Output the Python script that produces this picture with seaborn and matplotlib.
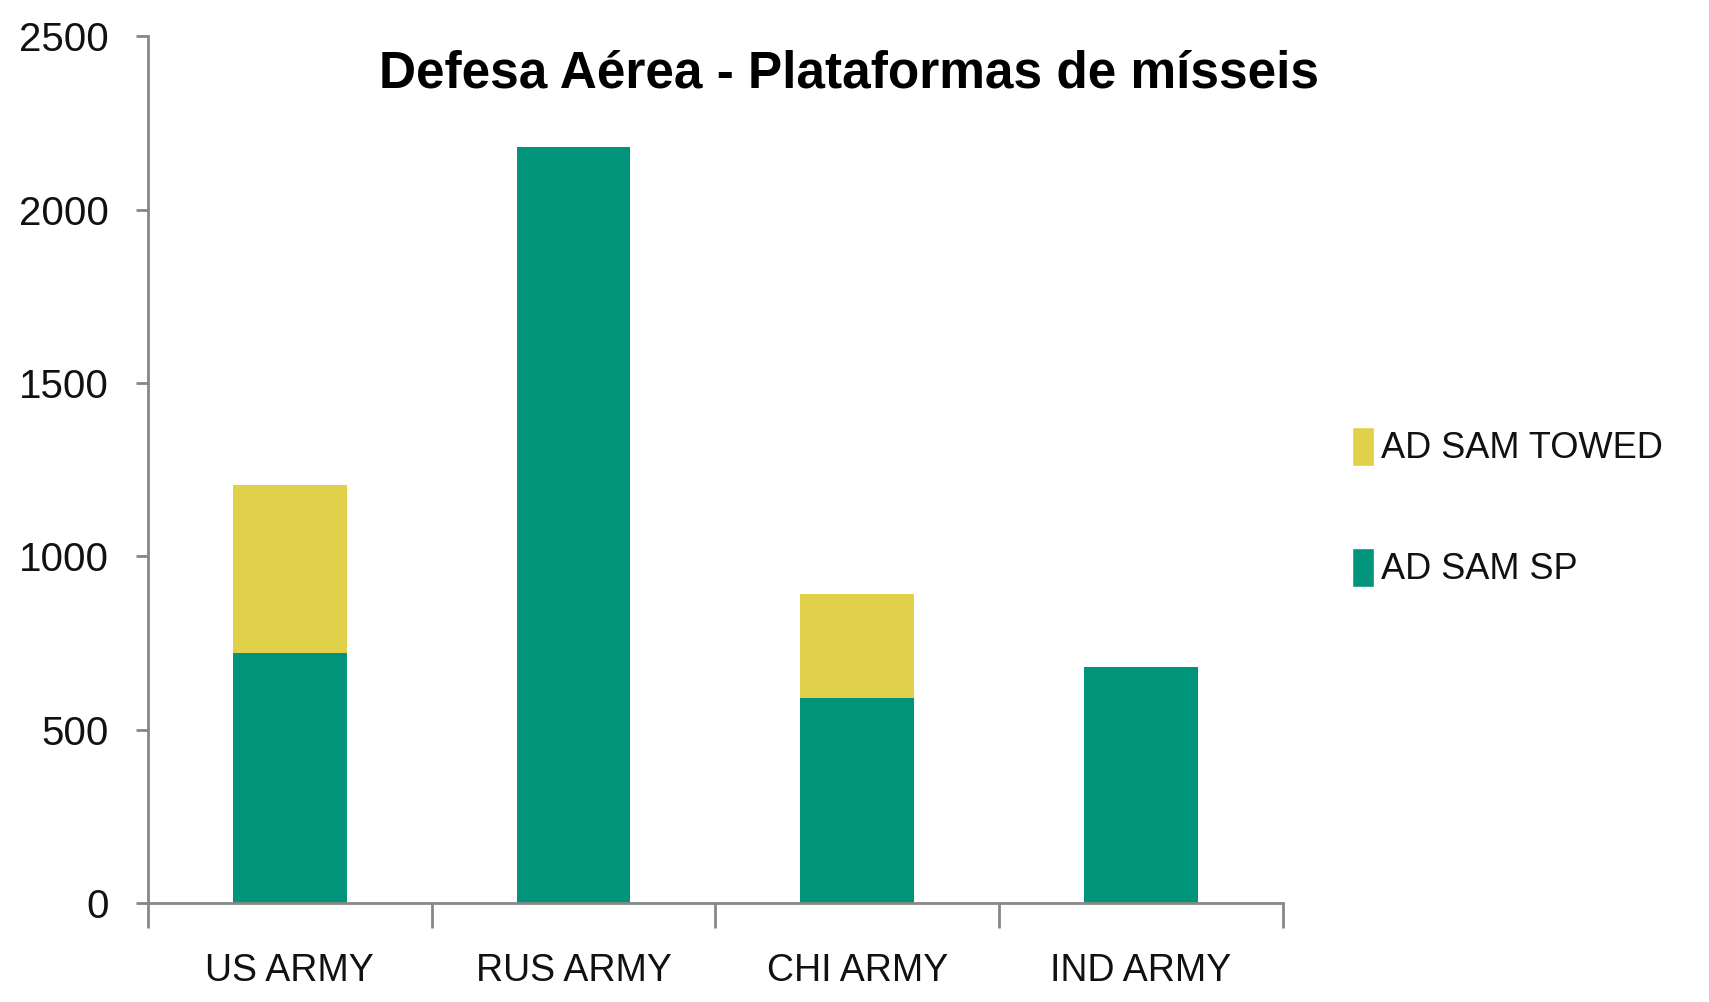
import pandas as pd
import matplotlib.pyplot as plt
import seaborn as sns
from matplotlib.patches import Patch
from matplotlib.ticker import FixedLocator

# Dados
exercitos = ["US ARMY", "RUS ARMY", "CHI ARMY", "IND ARMY"]
sam_sp = [720, 2180, 592, 680]
sam_towed = [485, 0, 300, 0]

df = pd.DataFrame({"exercito": exercitos, "sp": sam_sp, "towed": sam_towed})
df["total"] = df["sp"] + df["towed"]

cor_sp = "#00957A"
cor_towed = "#E0D04A"
cor_eixo = "#878787"
cor_texto = "#111111"

sns.set_style("white")
plt.rcParams["font.family"] = ["Liberation Sans", "DejaVu Sans"]

fig = plt.figure(figsize=(17.09, 10.02), dpi=100)
ax = fig.add_axes([0.0866, 0.0988, 0.664, 0.865])

# barras empilhadas: total (amarelo) por baixo, SP (verde) por cima
sns.barplot(data=df, x="exercito", y="total", color=cor_towed, width=0.4,
            saturation=1, ax=ax)
sns.barplot(data=df, x="exercito", y="sp", color=cor_sp, width=0.4,
            saturation=1, ax=ax)
for p in ax.patches:
    p.set_edgecolor("none")

ax.set_xlim(-0.5, 3.5)
ax.set_ylim(0, 2500)
ax.set_yticks([0, 500, 1000, 1500, 2000, 2500])
ax.set_xlabel("")
ax.set_ylabel("")

for s in ["top", "right"]:
    ax.spines[s].set_visible(False)
for s in ["left", "bottom"]:
    ax.spines[s].set_color(cor_eixo)
    ax.spines[s].set_linewidth(2)

ax.tick_params(axis="y", which="major", direction="out", length=9, width=2,
               color=cor_eixo, labelsize=29, pad=19, labelcolor=cor_texto,
               left=True)
ax.tick_params(axis="x", which="major", length=0, labelsize=27, pad=36,
               labelcolor=cor_texto)
ax.xaxis.set_minor_locator(FixedLocator([-0.5, 0.5, 1.5, 2.5, 3.5]))
ax.tick_params(axis="x", which="minor", direction="out", length=18, width=2,
               color=cor_eixo, bottom=True)

fig.text(0.497, 0.926, "Defesa Aérea - Plataformas de mísseis", ha="center",
         va="center", fontsize=37, fontweight="bold", color="black")

handles = [Patch(facecolor=cor_towed, label="AD SAM TOWED"),
           Patch(facecolor=cor_sp, label="AD SAM SP")]
fig.legend(handles=handles, loc="center left", bbox_to_anchor=(0.772, 0.494),
           frameon=False, fontsize=26, handlelength=0.6, handleheight=1.3,
           handletextpad=0.2, labelspacing=2.25, labelcolor=cor_texto)

fig.savefig("out.png", dpi=100)
